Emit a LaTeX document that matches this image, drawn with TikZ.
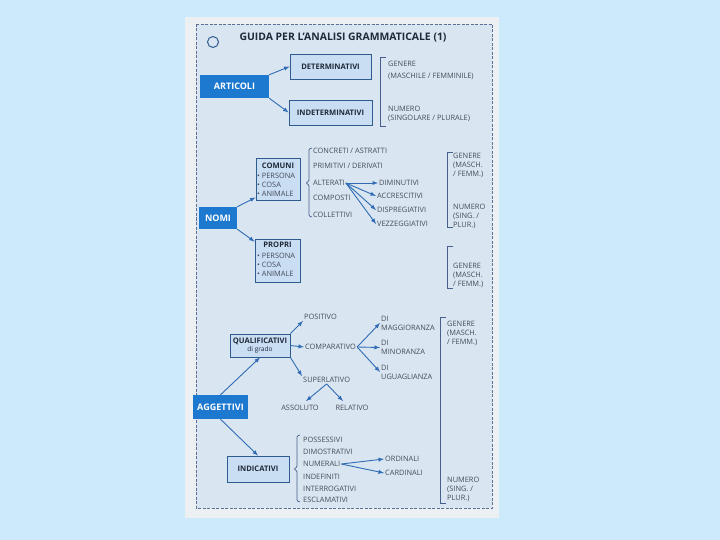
\documentclass[tikz,border=0pt]{standalone}
\usepackage{fontspec}
\setmainfont{Open Sans}

\definecolor{pagebg}{RGB}{205,233,252}
\definecolor{paper}{RGB}{236,240,243}
\definecolor{cardfill}{RGB}{217,229,240}
\definecolor{cardline}{RGB}{92,111,148}
\definecolor{darkblue}{RGB}{29,120,207}
\definecolor{lightfill}{RGB}{201,222,243}
\definecolor{boxedge}{RGB}{47,92,143}
\definecolor{linkblue}{RGB}{47,108,181}
\definecolor{textdark}{RGB}{31,42,58}
\definecolor{itemgray}{RGB}{70,76,90}
\definecolor{bracketcol}{RGB}{70,95,140}

\tikzset{
  darkbox/.style={fill=darkblue, text=white, font=\bfseries\fontsize{9}{10}\selectfont, inner sep=0pt},
  lightbox/.style={fill=lightfill, draw=boxedge, line width=0.8pt, text=textdark, font=\bfseries\fontsize{7.6}{9}\selectfont, inner sep=0pt},
  boxhead/.style={text=textdark, font=\bfseries\fontsize{7.6}{9}\selectfont, inner sep=0pt},
  item/.style={anchor=west, inner sep=1pt, text=itemgray, font=\fontsize{7.4}{9}\selectfont, align=left},
  link/.style={-latex, draw=linkblue, line width=0.9pt},
  sidebracket/.style={draw=bracketcol, line width=0.7pt},
}

\begin{document}
\begin{tikzpicture}[x=1pt,y=-1pt]
	\useasboundingbox (0,0) rectangle (720,540);
	\fill[pagebg] (0,0) rectangle (720,540);
	\fill[paper] (185,17) rectangle (499,518);
	\draw[cardline, fill=cardfill, line width=0.7pt, dash pattern=on 3pt off 1.5pt] (196,24) rectangle (492,508);
	\draw[boxedge, line width=1pt] (213,42) circle (5.5);
	\node[font=\bfseries\fontsize{10.4}{11}\selectfont, text=textdark] (title) at (343,38) {GUIDA PER L’ANALISI GRAMMATICALE (1)};

	%articoli
	\node[darkbox, minimum width=69, minimum height=23] (articoli) at (234.5,86.5) {ARTICOLI};
	\node[lightbox, minimum width=81, minimum height=25] (determ) at (330.5,66.5) {DETERMINATIVI};
	\node[lightbox, minimum width=83, minimum height=25] (indeterm) at (330.5,112.5) {INDETERMINATIVI};
	\draw[link] (articoli.north east) -- (determ.west);
	\draw[link] (articoli.south east) -- (indeterm.west);

	\draw[sidebracket] (386,57) -- (380,57) -- (380,126) -- (386,126);
	\node[item] (genereA) at (387,70) {GENERE\\[3pt](MASCHILE / FEMMINILE)};
	\node[item] (numeroA) at (387,114) {NUMERO\\(SINGOLARE / PLURALE)};

	%nomi
	\node[darkbox, minimum width=38, minimum height=22] (nomi) at (218,218) {NOMI};
	\node[lightbox, minimum width=44, minimum height=42] (comuni) at (278,179) {};
	\node[boxhead] (comunihead) at (278,166) {COMUNI};
	\node[item, anchor=north west] (comunilist) at (256,172) {\textbullet\ PERSONA\\\textbullet\ COSA\\\textbullet\ ANIMALE};
	\node[lightbox, minimum width=45, minimum height=43] (propri) at (277.5,260.5) {};
	\node[boxhead] (proprihead) at (277.5,245) {PROPRI};
	\node[item, anchor=north west] (proprilist) at (256,252) {\textbullet\ PERSONA\\\textbullet\ COSA\\\textbullet\ ANIMALE};
	\draw[link] (nomi.north east) -- ([yshift=3pt]comuni.south west);
	\draw[link] (nomi.south east) -- ([yshift=-3pt]propri.north west);

	\draw[sidebracket, rounded corners=1pt] (312,148) -- (309,149) -- (309,181) -- (306,183) -- (309,185) -- (309,216) -- (312,217);
	\node[item] (concreti) at (312,151) {CONCRETI / ASTRATTI};
	\node[item] (primitivi) at (312,166) {PRIMITIVI / DERIVATI};
	\node[item] (alterati) at (312,183) {ALTERATI};
	\node[item] (composti) at (312,198) {COMPOSTI};
	\node[item] (collettivi) at (312,215) {COLLETTIVI};

	\node[item] (diminutivi) at (378,183) {DIMINUTIVI};
	\node[item] (accrescitivi) at (376,196) {ACCRESCITIVI};
	\node[item] (dispregiativi) at (376,210) {DISPREGIATIVI};
	\node[item] (vezzeggiativi) at (376,224) {VEZZEGGIATIVI};
	\draw[link] (alterati.east) -- (diminutivi.west);
	\draw[link] (alterati.east) -- (accrescitivi.west);
	\draw[link] (alterati.east) -- (dispregiativi.west);
	\draw[link] (alterati.east) -- (vezzeggiativi.west);

	\draw[sidebracket] (453,152) -- (447,152) -- (447,227) -- (453,227);
	\node[item] (genereN) at (452,165) {GENERE\\(MASCH.\\/ FEMM.)};
	\node[item] (numeroN) at (452,216) {NUMERO\\(SING. /\\PLUR.)};
	\draw[sidebracket] (453,246) -- (447,246) -- (447,288) -- (453,288);
	\node[item] (genereP) at (452,275) {GENERE\\(MASCH.\\/ FEMM.)};

	%aggettivi
	\node[darkbox, minimum width=55, minimum height=24] (aggettivi) at (220.5,407) {AGGETTIVI};
	\node[lightbox, minimum width=60, minimum height=23, align=center] (qualif) at (260,345.5) {QUALIFICATIVI\\[-1pt]{\mdseries\fontsize{6.6}{7}\selectfont di grado}};
	\node[lightbox, minimum width=62, minimum height=26] (indicativi) at (258,469) {INDICATIVI};
	\draw[link] (aggettivi.north) -- (qualif.south);
	\draw[link] (aggettivi.south) -- (indicativi.north);

	\node[item] (positivo) at (303,317) {POSITIVO};
	\node[item] (comparativo) at (304,347) {COMPARATIVO};
	\node[item] (superlativo) at (302,380) {SUPERLATIVO};
	\draw[link] (qualif.north east) -- (positivo.south west);
	\draw[link] (qualif.east) -- (comparativo.west);
	\draw[link] (qualif.south east) -- (superlativo.north west);

	\node[item, anchor=center] (assoluto) at (300,408) {ASSOLUTO};
	\node[item, anchor=center] (relativo) at (352,408) {RELATIVO};
	\draw[link] (superlativo.south) -- ([xshift=6pt,yshift=3pt]assoluto.north);
	\draw[link] (superlativo.south) -- ([xshift=-9pt,yshift=3pt]relativo.north);

	\node[item] (maggioranza) at (380,323) {DI\\MAGGIORANZA};
	\node[item] (minoranza) at (380,347.5) {DI\\MINORANZA};
	\node[item] (uguaglianza) at (380,372) {DI\\UGUAGLIANZA};
	\draw[link] (comparativo.east) -- (maggioranza.west);
	\draw[link] (comparativo.east) -- (minoranza.west);
	\draw[link] (comparativo.east) -- (uguaglianza.west);

	\draw[sidebracket, rounded corners=1pt] (300,435) -- (297,436) -- (297,467) -- (294,469) -- (297,471) -- (297,501) -- (300,502);
	\node[item] (possessivi) at (302,440) {POSSESSIVI};
	\node[item] (dimostrativi) at (302,452) {DIMOSTRATIVI};
	\node[item] (numerali) at (302,464) {NUMERALI};
	\node[item] (indefiniti) at (302,477) {INDEFINITI};
	\node[item] (interrogativi) at (302,489) {INTERROGATIVI};
	\node[item] (esclamativi) at (302,500) {ESCLAMATIVI};

	\node[item] (ordinali) at (384,459) {ORDINALI};
	\node[item] (cardinali) at (384,473) {CARDINALI};
	\draw[link] (numerali.east) -- (ordinali.west);
	\draw[link] (numerali.east) -- (cardinali.west);

	\draw[sidebracket] (446,317) -- (440,317) -- (440,503) -- (446,503);
	\node[item] (genereG) at (446,333) {GENERE\\(MASCH.\\/ FEMM.)};
	\node[item] (numeroG) at (446,489) {NUMERO\\(SING. /\\PLUR.)};
\end{tikzpicture}
\end{document}
